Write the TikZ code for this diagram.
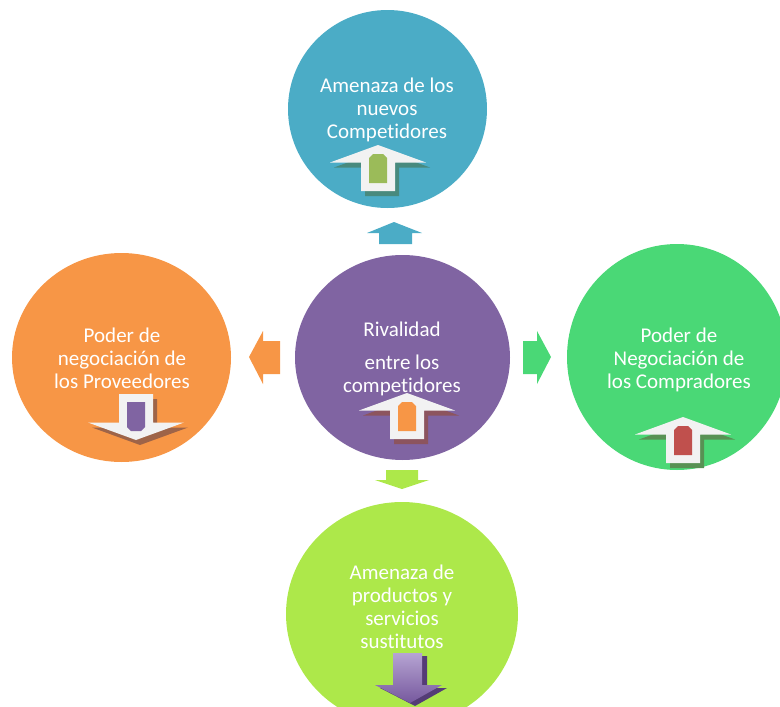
\documentclass[tikz,border=0pt]{standalone}
\usepackage{fontspec}
\setmainfont{Carlito}[Ligatures={NoCommon}]
\usetikzlibrary{shapes.geometric}

\definecolor{nuevoscol}{RGB}{75,172,198}
\definecolor{rivalcol}{RGB}{128,100,162}
\definecolor{provcol}{RGB}{247,150,70}
\definecolor{compcol}{RGB}{74,216,118}
\definecolor{sustcol}{RGB}{173,232,74}
\definecolor{arrowwhite}{RGB}{242,242,242}
\definecolor{innergreen}{RGB}{155,187,89}
\definecolor{innerorange}{RGB}{247,150,70}
\definecolor{innerred}{RGB}{192,80,77}
\definecolor{innerpurple}{RGB}{128,100,162}
\definecolor{nuevosshadow}{RGB}{72,138,126}
\definecolor{rivalshadow}{RGB}{140,84,94}
\definecolor{compshadow}{RGB}{88,145,84}
\definecolor{provshadow}{RGB}{158,100,72}
\definecolor{sustlight}{RGB}{182,164,210}
\definecolor{sustdark}{RGB}{118,88,158}
\definecolor{sustshadow}{RGB}{84,60,118}

\tikzset{
  arrowoutline/.style={insert path={(0,0) -- (48,17.5) -- (17,17.5) -- (17,46) -- (-17,46) -- (-17,17.5) -- (-48,17.5) -- cycle}},
  pics/forcearrow/.style n args={3}{code={
    \begin{scope}[shift={(4,5)}]
      \fill[#1,yscale=#3,arrowoutline];
    \end{scope}
    \fill[arrowwhite,yscale=#3,arrowoutline];
    \fill[#2,yscale=#3] (-9,13) -- (-5,9) -- (5,9) -- (9,13) -- (9,38) -- (-9,38) -- cycle;
  }}
}

\begin{document}
\begin{tikzpicture}[x=1pt,y=-1pt,
  force/.style={ellipse,fill=#1,inner sep=0pt},
  forcetext/.style={text=white,align=center,font=\fontsize{21}{23}\selectfont}]
\useasboundingbox (0,0) rectangle (780,707);
\clip (0,0) rectangle (780,707);

% las cinco fuerzas
\node[force=nuevoscol,minimum width=199pt,minimum height=198pt] (nuevos) at (387.5,109) {};
\node[force=rivalcol,minimum width=215pt,minimum height=205pt] (rival) at (402.5,357.5) {};
\node[force=provcol,minimum width=219pt,minimum height=209pt] (prov) at (121.5,357.5) {};
\node[force=compcol,minimum width=220pt,minimum height=226pt] (comp) at (677,357) {};
\node[force=sustcol,minimum width=232pt,minimum height=224pt] (sust) at (402,614) {};

% flechas entre los circulos
\fill[nuevoscol] (394,222) -- (422,233) -- (412,233) -- (412,244) -- (379,244) -- (379,233) -- (367,233) -- cycle;
\fill[sustcol] (386,470) -- (418,470) -- (418,480) -- (429,480) -- (402,489) -- (375,480) -- (386,480) -- cycle;
\fill[provcol] (249,357) -- (263,331) -- (263,341) -- (280,341) -- (280,374) -- (263,374) -- (263,384) -- cycle;
\fill[compcol] (523,341) -- (537,341) -- (537,331) -- (551,357) -- (537,384) -- (537,374) -- (523,374) -- cycle;

% textos
\node[forcetext] (tnuevos) at (387,110) {Amenaza de los\\nuevos\\Competidores};
\node[forcetext] (trival) at (402,359) {Rivalidad\\[10pt]entre los\\competidores};
\node[forcetext] (tprov) at (122,358.5) {Poder de\\negociaci\'on de\\los Proveedores};
\node[forcetext] (tcomp) at (679,360) {Poder de\\Negociaci\'on de\\los Compradores};
\node[forcetext] (tsust) at (402,607) {Amenaza de\\productos y\\servicios\\sustitutos};

% flechas dentro de los circulos
\pic at (378,145) {forcearrow={nuevosshadow}{innergreen}{1}};
\pic at (407,393) {forcearrow={rivalshadow}{innerorange}{1}};
\pic at (683,417) {forcearrow={compshadow}{innerred}{1}};
\pic at (136,440) {forcearrow={provshadow}{innerpurple}{-1}};

\fill[sustshadow] (398,656) -- (427,656) -- (427,688) -- (447,688) -- (415,706) -- (380,688) -- (398,688) -- cycle;
\shade[top color=sustlight,bottom color=sustdark] (393,653) -- (422,653) -- (422,685) -- (442,685) -- (410,703) -- (375,685) -- (393,685) -- cycle;
\end{tikzpicture}
\end{document}
